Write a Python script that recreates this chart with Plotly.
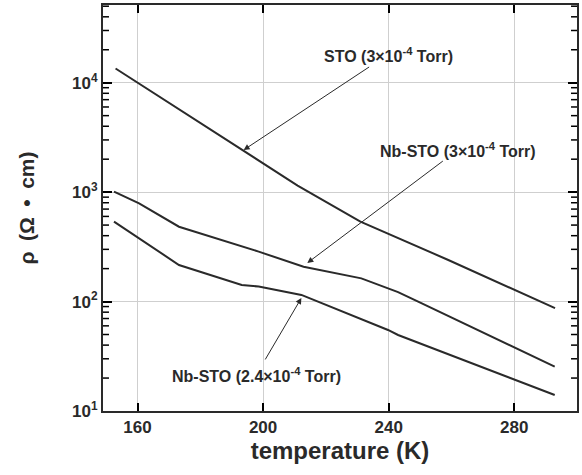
import numpy as np
import plotly.graph_objects as go

# Resistivity vs temperature for three films (log scale)
t_sto = [153, 194, 211, 231, 259, 293]
rho_sto = [13490, 2344, 1148, 537, 240, 87]

t_nb30 = [152.5, 160.5, 173.2, 198.6, 212.9, 231.3, 243.0, 249.4, 292.9]
rho_nb30 = [1009, 791, 483, 286, 208, 163, 122, 100, 25.4]

t_nb24 = [152.5, 160.5, 173.2, 193.2, 198.6, 212.2, 239.8, 243.0, 292.9]
rho_nb24 = [537, 378, 216, 142, 137, 115, 55, 49.5, 14]

x_ticks = [160, 200, 240, 280]
y_ticks = [10, 100, 1000, 10000]
y_ticktext = ["10<sup>1</sup>", "10<sup>2</sup>", "10<sup>3</sup>", "10<sup>4</sup>"]

FONT = "Liberation Sans"
INK = "#2a2a2a"
Y_RANGE = [1, 4.71]
W, H = 582, 475
M = dict(l=103, r=3, t=5, b=64)

fig = go.Figure()
for t, r in [(t_sto, rho_sto), (t_nb30, rho_nb30), (t_nb24, rho_nb24)]:
    fig.add_trace(go.Scatter(x=t, y=r, mode="lines",
                             line=dict(color=INK, width=2), showlegend=False))

fig.update_layout(
    width=W, height=H,
    margin=M,
    paper_bgcolor="white", plot_bgcolor="white",
    font=dict(family=FONT, color=INK),
    xaxis=dict(
        range=[149, 300], tickvals=x_ticks, ticks="inside", ticklen=8,
        tickwidth=2, tickcolor="black", mirror="allticks", showline=True,
        linecolor=INK, linewidth=2, showgrid=True, gridcolor="#cfcfcf",
        gridwidth=1, zeroline=False,
        tickfont=dict(size=17, family=FONT, weight="bold", color=INK),
        title=dict(text="temperature (K)", standoff=6,
                   font=dict(size=24, family=FONT, weight="bold", color=INK)),
    ),
    yaxis=dict(
        type="log", range=Y_RANGE, tickvals=y_ticks, ticktext=y_ticktext,
        ticks="inside", ticklen=9, tickwidth=2, tickcolor="black",
        mirror="allticks", showline=True, linecolor=INK, linewidth=2,
        showgrid=True, gridcolor="#cfcfcf", gridwidth=1, zeroline=False,
        tickfont=dict(size=17, family=FONT, weight="bold", color=INK),
        title=dict(text="ρ\u2002(Ω\u2002•\u2002cm)", standoff=32,
                   font=dict(size=21, family=FONT, weight="bold", color=INK)),
    ),
)

# Minor log ticks (2..9 of each decade) on both vertical edges,
# placed in axis-domain fractions of the log range
plot_w = W - M["l"] - M["r"]
minor_len = 6 / plot_w
span = Y_RANGE[1] - Y_RANGE[0]
for d in range(1, 5):
    for m in range(2, 10):
        frac = (np.log10(m * 10 ** d) - Y_RANGE[0]) / span
        if frac > 1:
            continue
        for x0, x1 in [(0, minor_len), (1 - minor_len, 1)]:
            fig.add_shape(type="line", xref="x domain", yref="y domain",
                          x0=x0, x1=x1, y0=frac, y1=frac, layer="above",
                          line=dict(color="black", width=1.5))

# Curve labels
labels = [
    ("STO (3×10<sup>-4</sup> Torr)", 239.8, 4.253),
    ("Nb-STO (3×10<sup>-4</sup> Torr)", 262.1, 3.385),
    ("Nb-STO (2.4×10<sup>-4</sup> Torr)", 198.0, 1.33),
]
for text, x, ly in labels:
    fig.add_annotation(x=x, y=ly, xref="x", yref="y", text=text,
                       showarrow=False,
                       font=dict(size=16, family=FONT, weight="bold", color=INK))

# Arrows from labels to curves
arrows = [
    (193.8, 3.385, 127, -84),
    (214.1, 2.353, 137, -103),
    (212.2, 2.033, -37, 63),
]
for x, ly, ax, ay in arrows:
    fig.add_annotation(x=x, y=ly, xref="x", yref="y", text="",
                       showarrow=True, ax=ax, ay=ay, arrowhead=2,
                       arrowsize=1.2, arrowwidth=1, arrowcolor=INK)

fig.write_html("out.html")
